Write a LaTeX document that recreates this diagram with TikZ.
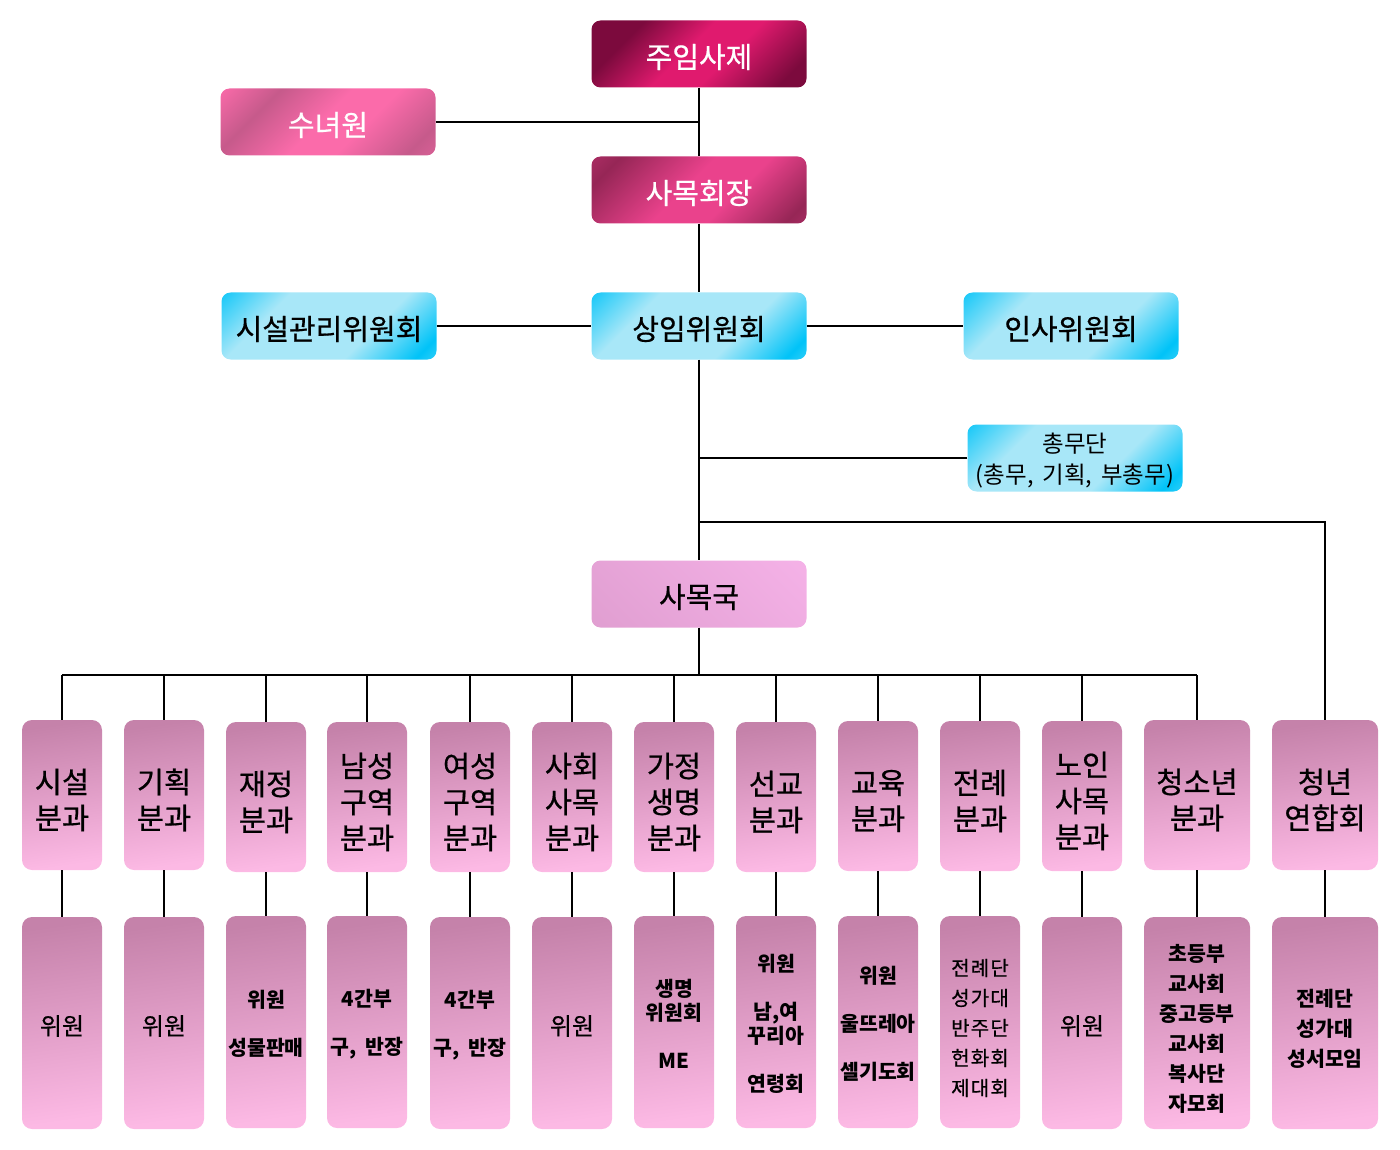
\documentclass[tikz,border=0pt]{standalone}
\usepackage{fontspec}
\setmainfont{Noto Sans CJK KR}
\newfontfamily\krmed{Noto Sans CJK KR}[FakeBold=0.6]
\definecolor{jdark}{HTML}{7C0A3D}
\definecolor{jbright}{HTML}{E01A6E}
\definecolor{sbright}{HTML}{FB6BAA}
\definecolor{sdark}{HTML}{C65A8B}
\definecolor{hbright}{HTML}{EA428C}
\definecolor{hdark}{HTML}{962656}
\definecolor{bcyan}{HTML}{00C3F8}
\definecolor{blight}{HTML}{A8E7F8}
\definecolor{gdark}{HTML}{DC9ACC}
\definecolor{glight}{HTML}{F9B6EC}
\definecolor{dtop}{HTML}{C582AA}
\definecolor{dbot}{HTML}{FCB9E4}
\pgfdeclarehorizontalshading{sJuim}{100bp}{color(0bp)=(jdark); color(28bp)=(jdark); color(46bp)=(jbright); color(58bp)=(jbright); color(78bp)=(jdark); color(92bp)=(jdark); color(100bp)=(jbright!60!jdark)}
\pgfdeclarehorizontalshading{sSunyeo}{100bp}{color(0bp)=(sbright); color(14bp)=(sbright); color(30bp)=(sdark); color(48bp)=(sbright); color(60bp)=(sbright); color(78bp)=(sdark); color(100bp)=(sbright)}
\pgfdeclarehorizontalshading{sHoe}{100bp}{color(0bp)=(hbright!70!hdark); color(22bp)=(hdark); color(46bp)=(hbright); color(60bp)=(hbright); color(80bp)=(hdark); color(100bp)=(hbright!70!hdark)}
\pgfdeclarehorizontalshading{sBlue}{100bp}{color(0bp)=(bcyan); color(12bp)=(bcyan); color(32bp)=(blight); color(62bp)=(blight); color(80bp)=(bcyan); color(100bp)=(blight)}
\pgfdeclarehorizontalshading{sGuk}{100bp}{color(0bp)=(gdark); color(100bp)=(glight)}
\tikzset{
  conn/.style={draw=black, line width=2pt},
  bigbox/.style={rounded corners=9pt, minimum width=215pt, minimum height=67pt, inner sep=0pt},
  pinkbox/.style={bigbox, shading angle=-45},
  bluebox/.style={bigbox, shading=sBlue, shading angle=-45},
  divbox/.style={rounded corners=10pt, minimum width=80pt, minimum height=150pt, inner sep=0pt, top color=dtop, bottom color=dbot, shading angle=8},
  subbox/.style={rounded corners=10pt, minimum width=80pt, minimum height=212pt, inner sep=0pt, top color=dtop, bottom color=dbot, shading angle=8},
  tw/.style={label={[font=\fontsize{29}{32}\selectfont\krmed, text=white, yshift=-3pt, align=center]center:{#1}}},
  tb/.style={label={[font=\fontsize{29}{32}\selectfont\krmed, text=black, yshift=-3pt, align=center]center:{#1}}},
  td/.style={label={[font=\fontsize{29.5}{36}\selectfont\krmed, text=black, yshift=-5pt, align=center]center:{#1}}},
  tsb/.style={label={[font=\fontsize{24}{26}\selectfont\krmed, text=black, yshift=-3pt, align=center]center:{#1}}},
  ts/.style={label={[font=\fontsize{20.5}{24}\selectfont\bfseries, text=black, yshift=-2pt, align=center]center:{#1}}},
  tt/.style={label={[font=\fontsize{20.5}{30}\selectfont\bfseries, text=black, yshift=-6pt, align=center]center:{#1}}},
  tr/.style={label={[font=\fontsize{20}{30}\selectfont\krmed\addfontfeature{LetterSpace=6}, text=black, yshift=-6pt, align=center]center:{#1}}},
}
\begin{document}
\begin{tikzpicture}[x=1pt, y=-1pt]
\useasboundingbox (0,0) rectangle (1400,1150);
% top level
\node[pinkbox, shading=sJuim, tw={주임사제}] (juim) at (699,54) {};
\node[pinkbox, shading=sSunyeo, tw={수녀원}] (sunyeo) at (328,122) {};
\node[pinkbox, shading=sHoe, tw={사목회장}] (hoejang) at (699,190) {};
\node[bluebox, tb={시설관리위원회}] (siseol) at (329,326) {};
\node[bluebox, tb={상임위원회}] (sangim) at (699,326) {};
\node[bluebox, tb={인사위원회}] (insa) at (1071,326) {};
\node[bluebox, label={[font=\fontsize{23.5}{31}\selectfont, text=black, yshift=-3pt, align=center]center:{총무단\\(총무,\hspace{9pt}기획,\hspace{9pt}부총무)}}] (chongmu) at (1075,458) {};
\node[bigbox, shading=sGuk, shading angle=45, tb={사목국}] (guk) at (699,594) {};
% division boxes
\node[divbox, td={시설\\분과}] (d1) at (62,795) {};
\node[divbox, td={기획\\분과}] (d2) at (164,795) {};
\node[divbox, td={재정\\분과}] (d3) at (266,797) {};
\node[divbox, td={남성\\구역\\분과}] (d4) at (367,797) {};
\node[divbox, td={여성\\구역\\분과}] (d5) at (470,797) {};
\node[divbox, td={사회\\사목\\분과}] (d6) at (572,797) {};
\node[divbox, td={가정\\생명\\분과}] (d7) at (674,797) {};
\node[divbox, td={선교\\분과}] (d8) at (776,797) {};
\node[divbox, td={교육\\분과}] (d9) at (878,796) {};
\node[divbox, td={전례\\분과}] (d10) at (980,796) {};
\node[divbox, td={노인\\사목\\분과}] (d11) at (1082,796) {};
\node[divbox, minimum width=106pt, td={청소년\\분과}] (d12) at (1197,795) {};
\node[divbox, minimum width=106pt, td={청년\\연합회}] (d13) at (1325,795) {};
% sub boxes
\node[subbox, tsb={위원}] (s1) at (62,1023) {};
\node[subbox, tsb={위원}] (s2) at (164,1023) {};
\node[subbox, ts={위원\\[24pt]성물판매}] (s3) at (266,1022) {};
\node[subbox, ts={4간부\\[24pt]구,\hspace{9pt}반장}] (s4) at (367,1022) {};
\node[subbox, ts={4간부\\[24pt]구,\hspace{9pt}반장}] (s5) at (470,1023) {};
\node[subbox, tsb={위원}] (s6) at (572,1023) {};
\node[subbox, ts={생명\\위원회\\[24pt]ME}] (s7) at (674,1022) {};
\node[subbox, ts={위원\\[24pt]남,여\\꾸리아\\[24pt]연령회}] (s8) at (776,1022) {};
\node[subbox, ts={위원\\[24pt]울뜨레아\\[24pt]셀기도회}] (s9) at (878,1022) {};
\node[subbox, tr={전례단\\성가대\\반주단\\헌화회\\제대회}] (s10) at (980,1022) {};
\node[subbox, tsb={위원}] (s11) at (1082,1023) {};
\node[subbox, minimum width=106pt, tt={초등부\\교사회\\중고등부\\교사회\\복사단\\자모회}] (s12) at (1197,1023) {};
\node[subbox, minimum width=106pt, tt={전례단\\성가대\\성서모임}] (s13) at (1325,1023) {};
% connectors
\draw[conn] (juim.south) -- (hoejang.north);
\draw[conn] (sunyeo.east) -- (sunyeo.east -| juim.south);
\draw[conn] (hoejang.south) -- (sangim.north);
\draw[conn] (siseol.east) -- (sangim.west);
\draw[conn] (sangim.east) -- (sangim.east -| insa.west);
\draw[conn] (sangim.south) -- (guk.north);
\draw[conn] (chongmu.west) -- (chongmu.west -| sangim.south);
\coordinate (yj) at (699,522);
\draw[conn] (yj) -| (d13.north);
\coordinate (bus) at (699,675);
\draw[conn] (guk.south) -- (bus);
\draw[conn] (d1.north |- bus) -- (d12.north |- bus);
\foreach \i in {1,...,12} {\draw[conn] (d\i.north |- bus) -- (d\i.north);}
\foreach \i in {1,...,13} {\draw[conn] (d\i.south) -- (s\i.north);}
\end{tikzpicture}
\end{document}
